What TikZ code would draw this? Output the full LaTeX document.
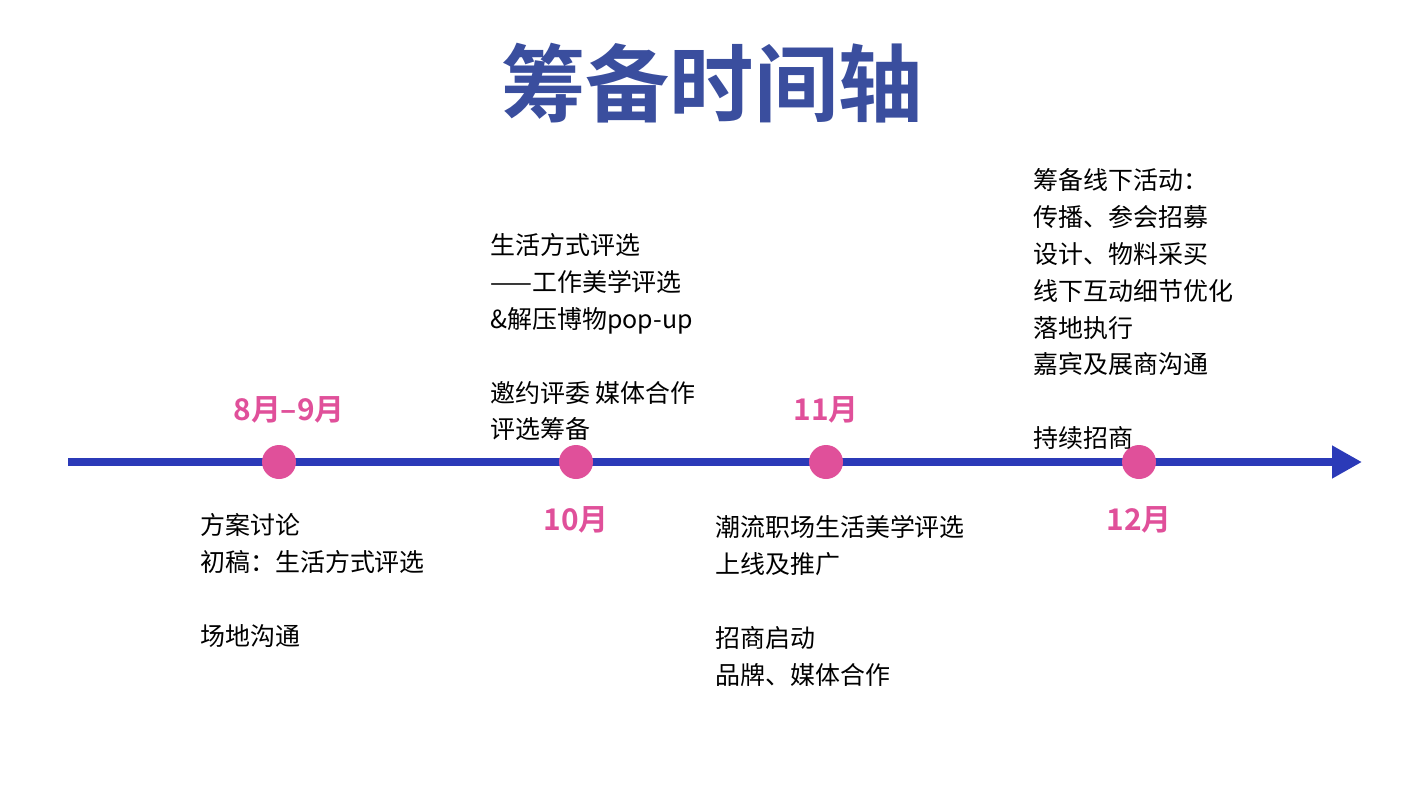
\documentclass[tikz,border=0pt]{standalone}
\usepackage{fontspec}
\setmainfont{Noto Sans CJK SC}
\newfontfamily\cjkbold{Noto Sans CJK SC Bold}
\usetikzlibrary{arrows.meta}
\definecolor{axisblue}{HTML}{2B3AB8}
\definecolor{titleblue}{HTML}{3A4E9E}
\definecolor{dotpink}{HTML}{E0509A}
\tikzset{
  dot/.style={circle, fill=dotpink, minimum size=0.68cm, inner sep=0pt},
  month/.style={text=dotpink, font=\cjkbold\fontsize{17}{20}\selectfont},
  notes/.style={align=left, anchor=north west, inner sep=0pt,
    font=\fontsize{14.2}{21}\selectfont}
}
\begin{document}
\begin{tikzpicture}[x=0.02cm, y=-0.02cm]
      \useasboundingbox (0,0) rectangle (1425,801);
      \node (title) at (712,83){\textcolor{titleblue}{\cjkbold\fontsize{48}{52}\selectfont 筹备时间轴}};

      \coordinate (s) at (68,462);
      \coordinate (e) at (1362,462);
      \draw[axisblue, line width=4.5pt, -{Triangle[length=0.6cm,width=0.62cm]}] (s) -- (e);

      \node[dot] (d1) at (279,462){};
      \node[dot] (d2) at (576,462){};
      \node[dot] (d3) at (826,462){};
      \node[dot] (d4) at (1139,462){};

      \node[month] (m1) at (289,410){8月–9月};
      \node[month] (m2) at (576,520){10月};
      \node[month] (m3) at (826,410){11月};
      \node[month] (m4) at (1139,520){12月};

      \node[notes] (n1) at (200,513){方案讨论\\初稿：生活方式评选\\ \\场地沟通};
      \node[notes] (n2) at (490,233){生活方式评选\\——工作美学评选\\\&解压博物pop-up\\ \\邀约评委 媒体合作\\评选筹备};
      \node[notes] (n3) at (715,515){潮流职场生活美学评选\\上线及推广\\ \\招商启动\\品牌、媒体合作};
      \node[notes] (n4) at (1033,168){筹备线下活动：\\传播、参会招募\\设计、物料采买\\线下互动细节优化\\落地执行\\嘉宾及展商沟通\\ \\持续招商};
\end{tikzpicture}
\end{document}
